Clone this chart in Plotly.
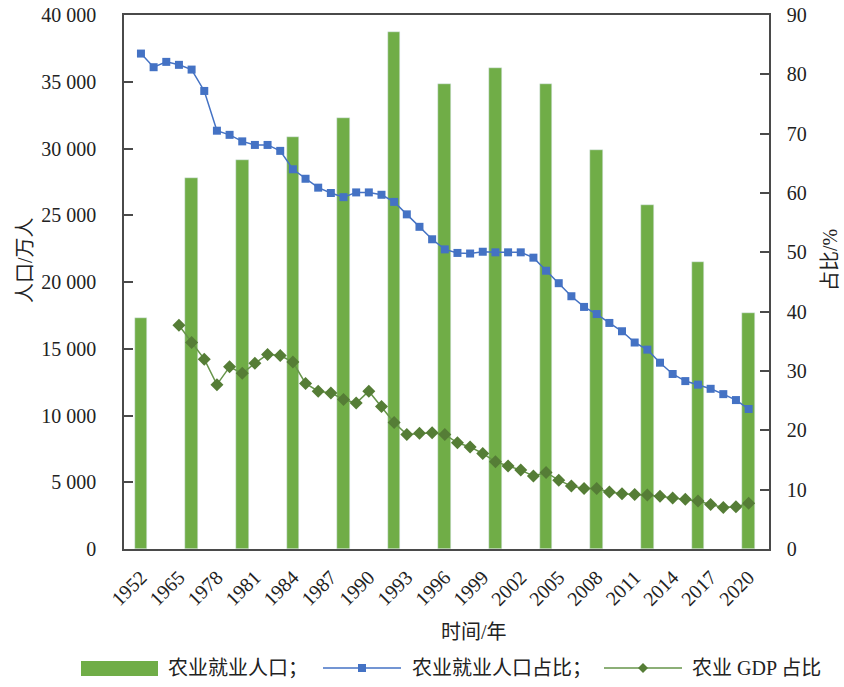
import plotly.graph_objects as go

# ---- data ----
years = ["1952", "1957", "1962", "1965", "1970", "1975",
         "1978", "1979", "1980", "1981", "1982", "1983", "1984", "1985", "1986", "1987",
         "1988", "1989", "1990", "1991", "1992", "1993", "1994", "1995", "1996", "1997",
         "1998", "1999", "2000", "2001", "2002", "2003", "2004", "2005", "2006", "2007",
         "2008", "2009", "2010", "2011", "2012", "2013", "2014", "2015", "2016", "2017",
         "2018", "2019", "2020"]

tick_years = ["1952", "1965", "1978", "1981", "1984", "1987", "1990", "1993", "1996",
              "1999", "2002", "2005", "2008", "2011", "2014", "2017", "2020"]

bar_years = ["1952", "1970", "1980", "1984", "1988", "1992", "1996", "2000", "2004",
             "2008", "2012", "2016", "2020"]
agri_employment = [17317, 27811, 29122, 30868, 32249, 38699, 34820, 36043, 34830,
                   29923, 25773, 21496, 17715]

emp_share = [83.5, 81.2, 82.1, 81.6, 80.8, 77.2,
             70.5, 69.8, 68.7, 68.1, 68.1, 67.1, 64.0, 62.4, 60.9, 60.0,
             59.3, 60.1, 60.1, 59.7, 58.5, 56.4, 54.3, 52.2, 50.5, 49.9,
             49.8, 50.1, 50.0, 50.0, 50.0, 49.1, 46.9, 44.8, 42.6, 40.8,
             39.6, 38.1, 36.7, 34.8, 33.6, 31.4, 29.5, 28.3, 27.7, 27.0,
             26.1, 25.1, 23.6]

gdp_years = years[3:]
gdp_share = [37.7, 34.8, 32.0,
             27.7, 30.7, 29.6, 31.3, 32.8, 32.6, 31.5, 27.9, 26.6, 26.3,
             25.2, 24.6, 26.6, 24.0, 21.3, 19.3, 19.5, 19.6, 19.3, 17.9,
             17.2, 16.1, 14.7, 14.0, 13.3, 12.3, 12.9, 11.6, 10.6, 10.2,
             10.2, 9.6, 9.3, 9.2, 9.1, 8.9, 8.6, 8.4, 8.1, 7.5,
             7.0, 7.1, 7.7]

left_ticks = [0, 5000, 10000, 15000, 20000, 25000, 30000, 35000, 40000]
right_ticks = [0, 10, 20, 30, 40, 50, 60, 70, 80, 90]

# ---- style ----
FONT = "Liberation Serif, Noto Sans CJK SC"
GREEN_BAR = "#70AD47"
BLUE = "#4472C4"
GREEN_LINE = "#66944A"
GREEN_MARK = "#557D36"
AXIS = "#4a4a4a"

fig = go.Figure()
fig.add_trace(go.Bar(x=bar_years, y=agri_employment, marker_color=GREEN_BAR,
                     width=1.0, name="农业就业人口", showlegend=False))
fig.add_trace(go.Scatter(x=years, y=emp_share, yaxis="y2", mode="lines+markers",
                         line=dict(color=BLUE, width=1.5),
                         marker=dict(symbol="square", size=8, color=BLUE),
                         name="农业就业人口占比", showlegend=False))
fig.add_trace(go.Scatter(x=gdp_years, y=gdp_share, yaxis="y2", mode="lines+markers",
                         line=dict(color=GREEN_LINE, width=1.5),
                         marker=dict(symbol="diamond", size=10, color=GREEN_MARK),
                         name="农业 GDP 占比", showlegend=False))

L, R, T, B = 124, 75, 15, 138
W, H = 844, 687
pw, ph = W - L - R, H - T - B


def px_x(p):
    return (p - L) / pw


def px_y(p):
    return (H - B - p) / ph


fig.update_layout(
    width=W, height=H,
    margin=dict(l=L, r=R, t=T, b=B, autoexpand=False),
    paper_bgcolor="white", plot_bgcolor="white",
    font=dict(family=FONT, size=20, color="#222"),
    separators=". ",
    bargap=0,
    xaxis=dict(type="category", categoryorder="array", categoryarray=years,
               range=[-1.34, 49.61], tickvals=tick_years, ticktext=tick_years,
               tickangle=-45, ticks="", showline=True, linecolor=AXIS, linewidth=1.5,
               mirror=True, showgrid=False, zeroline=False, automargin=False,
               ticklabelstandoff=7,
               tickfont=dict(size=20, family=FONT)),
    yaxis=dict(range=[0, 40000], tickvals=left_ticks, tickformat=",d",
               ticks="inside", ticklen=9, tickcolor=AXIS, tickwidth=1.5,
               showline=True, linecolor=AXIS, linewidth=1.5, automargin=False,
               showgrid=False, zeroline=False, ticklabelstandoff=22,
               tickfont=dict(size=20, family=FONT)),
    yaxis2=dict(range=[0, 90], tickvals=right_ticks, overlaying="y", side="right",
                ticks="inside", ticklen=9, tickcolor=AXIS, tickwidth=1.5,
                showline=True, linecolor=AXIS, linewidth=1.5, automargin=False,
                showgrid=False, zeroline=False, ticklabelstandoff=12,
                tickfont=dict(size=20, family=FONT)),
)

ann = []
ann.append(dict(text="人口/万人", x=px_x(25), y=px_y(260), xref="paper", yref="paper",
                xanchor="center", yanchor="middle",
                showarrow=False, textangle=-90, font=dict(size=20, family=FONT)))
ann.append(dict(text="占比/%", x=px_x(830), y=px_y(260), xref="paper", yref="paper",
                xanchor="center", yanchor="middle",
                showarrow=False, textangle=-90, font=dict(size=20, family=FONT)))
ann.append(dict(text="时间/年", x=px_x(474), y=px_y(632), xref="paper", yref="paper",
                xanchor="center", yanchor="middle",
                showarrow=False, font=dict(size=20, family=FONT)))

ly = 668
legend_items = [
    ("农业就业人口；", 166),
    ("农业就业人口占比；", 410),
    ("农业 GDP 占比", 690),
]
for txt, xs in legend_items:
    ann.append(dict(text=txt, x=px_x(xs), y=px_y(ly), xref="paper", yref="paper",
                    xanchor="left", yanchor="middle", showarrow=False,
                    font=dict(size=20, family=FONT, color="#222")))

shapes = []
shapes.append(dict(type="rect", xref="paper", yref="paper",
                   x0=px_x(81), x1=px_x(158), y0=px_y(676), y1=px_y(661),
                   fillcolor=GREEN_BAR, line=dict(width=0)))
shapes.append(dict(type="line", xref="paper", yref="paper",
                   x0=px_x(323), x1=px_x(401), y0=px_y(ly), y1=px_y(ly),
                   line=dict(color=BLUE, width=1.5)))
shapes.append(dict(type="rect", xref="paper", yref="paper", xsizemode="pixel",
                   ysizemode="pixel", xanchor=px_x(362), yanchor=px_y(ly),
                   x0=-4, x1=4, y0=-4, y1=4, fillcolor=BLUE, line=dict(width=0)))
shapes.append(dict(type="line", xref="paper", yref="paper",
                   x0=px_x(604), x1=px_x(682), y0=px_y(ly), y1=px_y(ly),
                   line=dict(color=GREEN_LINE, width=1.5)))
shapes.append(dict(type="path", xref="paper", yref="paper", xsizemode="pixel",
                   ysizemode="pixel", xanchor=px_x(643), yanchor=px_y(ly),
                   path="M 0 5 L 5 0 L 0 -5 L -5 0 Z", fillcolor=GREEN_MARK,
                   line=dict(width=0)))

fig.update_layout(annotations=ann, shapes=shapes)

fig.write_html("out.html", config={"displayModeBar": False},
               post_script="document.body.style.margin='0';document.body.style.overflow='hidden';")
